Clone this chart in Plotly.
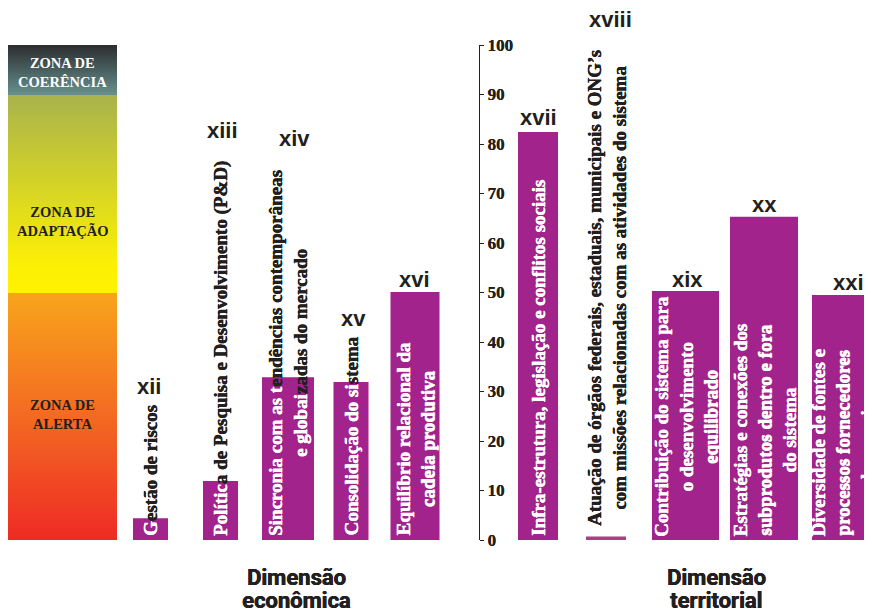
import numpy as np
import plotly.graph_objects as go

# ---------------- data ----------------
numerals = ["xii", "xiii", "xiv", "xv", "xvi", "xvii", "xviii", "xix", "xx", "xxi"]
values = [4.4, 11.9, 32.9, 31.9, 50.1, 82.4, 0.7, 50.3, 65.3, 49.5]
label_lines = [
    ["Gestão de riscos"],
    ["Política de Pesquisa e Desenvolvimento (P&amp;D)"],
    ["Sincronia com as tendências contemporâneas", "e globaizadas do mercado"],
    ["Consolidação do sistema"],
    ["Equilíbrio relacional da", "cadeia produtiva"],
    ["Infra-estrutura, legislação e conflitos sociais"],
    ["Atuação de órgãos federais, estaduais, municipais e ONG’s",
     "com missões relacionadas com as atividades do sistema"],
    ["Contribuição do sistema para", "o desenvolvimento", "equilibrado"],
    ["Estratégias e conexões dos", "subprodutos dentro e fora", "do sistema"],
    ["Diversidade de fontes e", "processos fornecedores", "de energia"],
]
dimension_labels = [["Dimensão", "econômica"], ["Dimensão", "territorial"]]
zone_labels = [["ZONA DE", "COERÊNCIA"], ["ZONA DE", "ADAPTAÇÃO"], ["ZONA DE", "ALERTA"]]
tick_values = [0, 10, 20, 30, 40, 50, 60, 70, 80, 90, 100]

# ---------------- layout / style ----------------
# the page body adds an 8px offset, so the figure is 864x606 and x units = screen px
W, H = 864, 606
X0 = 8
bar_centers = [150.5, 220.5, 288, 351, 415, 538, 606, 685.5, 764, 846]
bar_widths = [35, 35, 52, 35, 49, 40, 40, 67, 68, 68]
bar_colors = ["#A2238C"] * 6 + ["#A5427F"] + ["#A2238C"] * 3
label_x = [150.5, 220.5, 288, 351, 415, 538, 607, 685.5, 764, 842]
# characters (per line) drawn white because they sit on the bar; None = all white
white_chars = [[1], [7], [18, 8], [18], None, None, [0, 0], None, None, None]
label_shift = [2, 2, 2, 2, 2, 2, 12, 1, 1, 1]
numeral_x = [149, 222, 294, 353, 414, 538, 610, 687.5, 764, 848]
numeral_y = [31.1, 82.8, 81.2, 44.8, 52.7, 85.3, 105.1, 52.7, 67.7, 52.1]
dim_x = [296, 716]
dim_y = [-7.5, -12.3]
zone_x = 62.5
zone_y = [94.5, 64.4, 25.3]
zone_colors = ["white", "#231F20", "#231F20"]
DARK = "#231F20"
SERIF = "Liberation Serif, Times New Roman, serif"
SANS = "Liberation Sans, Arial, sans-serif"
NARROW = "Liberation Sans Narrow, Arial Narrow, Roboto, sans-serif"


def heavy(c):
    # a tiny same-coloured shadow thickens the glyphs like the printed original
    return "0.5px 0px 0px %s, 0px 0.4px 0px %s" % (c, c)


fig = go.Figure()

# gradient zone bar (background scale)
edges = np.linspace(0, 100, 1001)
zc = ((edges[:-1] + edges[1:]) / 2).reshape(-1, 1)
zone_scale = [
    [0.0, "#EE2B24"], [0.25, "#F36A22"], [0.4999, "#F8A51B"],
    [0.5, "#FFF200"], [0.56, "#FBEF06"], [0.8999, "#A8B34C"],
    [0.9, "#66918E"], [1.0, "#2C2C2F"],
]
fig.add_trace(go.Heatmap(x=[8, 117], y=edges, z=zc, colorscale=zone_scale,
                         zmin=0, zmax=100, showscale=False, hoverinfo="skip"))

fig.add_trace(go.Bar(x=bar_centers, y=values, width=bar_widths,
                     marker=dict(color=bar_colors, line=dict(width=0)),
                     hoverinfo="skip"))

ann = []
for i, lines in enumerate(label_lines):
    wc = white_chars[i]
    if wc is None:
        parts = ["<b>" + ln + "</b>" for ln in lines]
        col = "white"
    else:
        parts = []
        for ln, n in zip(lines, wc):
            if n > 0:
                parts.append('<b><span style="color:white;text-shadow:%s">' % heavy("white")
                             + ln[:n] + "</span>" + ln[n:] + "</b>")
            else:
                parts.append("<b>" + ln + "</b>")
        col = DARK
    ann.append(dict(x=label_x[i], y=0, xref="x", yref="y", text="<br>".join(parts),
                    textangle=-90, showarrow=False, xanchor="center", yanchor="bottom",
                    yshift=label_shift[i], align="center",
                    font=dict(family=SERIF, size=19, color=col, shadow=heavy(col))))
    ann.append(dict(x=numeral_x[i], y=numeral_y[i] / 100, xref="x", yref="paper",
                    text="<b>" + numerals[i] + "</b>", showarrow=False,
                    xanchor="center", yanchor="middle",
                    font=dict(family=SANS, size=22, color=DARK)))

for k, lines in enumerate(dimension_labels):
    for j, ln in enumerate(lines):
        ann.append(dict(x=dim_x[k], y=dim_y[j] / 100, xref="x", yref="paper",
                        text="<b>" + ln + "</b>", showarrow=False,
                        xanchor="center", yanchor="middle",
                        font=dict(family=NARROW, size=22, color=DARK, shadow=heavy(DARK))))

for k, lines in enumerate(zone_labels):
    ann.append(dict(x=zone_x, y=zone_y[k], xref="x", yref="y",
                    text="<br>".join("<b>" + ln + "</b>" for ln in lines),
                    showarrow=False, xanchor="center", yanchor="middle", align="center",
                    font=dict(family=SERIF, size=14.5, color=zone_colors[k])))

fig.update_layout(
    width=W, height=H,
    margin=dict(l=0, r=0, t=37, b=74),
    paper_bgcolor="white", plot_bgcolor="white",
    showlegend=False,
    annotations=ann,
    xaxis=dict(range=[X0, X0 + W], visible=False, fixedrange=True),
    yaxis=dict(range=[0, 100], anchor="free", position=(479 - X0) / W, side="right",
               tickvals=tick_values, ticktext=["<b>%d</b>" % v for v in tick_values],
               ticks="outside", ticklen=4, tickwidth=1,
               tickcolor=DARK, showline=True, linecolor=DARK, linewidth=1,
               showgrid=False, zeroline=False,
               tickfont=dict(family=SERIF, size=17, color=DARK,
                             shadow="0.4px 0px 0px " + DARK)),
)

fig.write_html("out.html")
